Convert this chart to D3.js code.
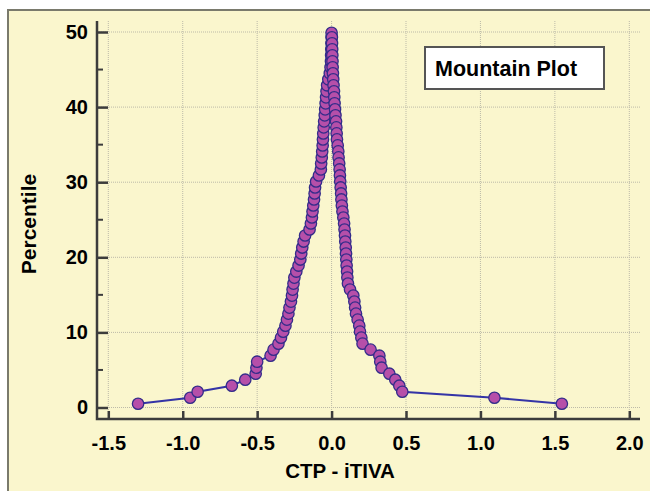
<!DOCTYPE html>
<html>
<head>
<meta charset="utf-8">
<script src="https://cdn.jsdelivr.net/npm/d3@7"></script>
<style>
  body { margin: 0; background: #ffffff; }
  text { font-family: "Liberation Sans", Arial, sans-serif; font-weight: bold; }
</style>
</head>
<body>
<div id="container"></div>
<script>
// left branch (ascending percentile), differences CTP - iTIVA
const leftDiff = [-1.30, -0.95, -0.90, -0.67, -0.58, -0.51, -0.505, -0.50, -0.41, -0.39,
  -0.357, -0.34, -0.325, -0.31, -0.30, -0.29, -0.283, -0.273, -0.266, -0.262,
  -0.256, -0.25, -0.237, -0.222, -0.21, -0.204, -0.197, -0.188, -0.178, -0.148,
  -0.139, -0.132, -0.128, -0.123, -0.118, -0.114, -0.111, -0.104, -0.085, -0.072,
  -0.07, -0.066, -0.063, -0.06, -0.058, -0.056, -0.053, -0.05, -0.046, -0.043,
  -0.04, -0.037, -0.034, -0.03, -0.022, -0.012, -0.007, -0.004, -0.003, -0.002,
  -0.001, 0.0, 0.0];
const leftPct = [0.5, 1.3, 2.1, 2.9, 3.7, 4.5, 5.3, 6.1, 6.9, 7.7,
  8.5, 9.3, 10.1, 10.9, 11.7, 12.5, 13.3, 14.1, 14.9, 15.7,
  16.5, 17.3, 18.1, 18.9, 19.7, 20.5, 21.3, 22.1, 22.9, 23.7,
  24.5, 25.3, 26.1, 26.9, 27.7, 28.5, 29.3, 30.1, 30.9, 31.7,
  32.5, 33.3, 34.1, 34.9, 35.7, 36.5, 37.3, 38.1, 38.9, 39.7,
  40.5, 41.3, 42.1, 42.9, 43.7, 44.5, 45.3, 46.1, 46.9, 47.7,
  48.5, 49.3, 49.9];

// right branch (descending percentile)
const rightDiff = [0.002, 0.003, 0.004, 0.005, 0.006, 0.007, 0.009, 0.011, 0.013, 0.016,
  0.018, 0.020, 0.023, 0.026, 0.030, 0.032, 0.034, 0.036, 0.041, 0.045,
  0.047, 0.051, 0.054, 0.056, 0.058, 0.061, 0.064, 0.066, 0.069, 0.073,
  0.079, 0.084, 0.087, 0.090, 0.092, 0.095, 0.097, 0.099, 0.101, 0.104,
  0.106, 0.110, 0.124, 0.146, 0.153, 0.158, 0.164, 0.175, 0.186, 0.191,
  0.200, 0.208, 0.262, 0.321, 0.327, 0.336, 0.388, 0.428, 0.455, 0.475,
  1.094, 1.547];
const rightPct = [49.3, 48.5, 47.7, 46.9, 46.1, 45.3, 44.5, 43.7, 42.9, 42.1,
  41.3, 40.5, 39.7, 38.9, 38.1, 37.3, 36.5, 35.7, 34.9, 34.1,
  33.3, 32.5, 31.7, 30.9, 30.1, 29.3, 28.5, 27.7, 26.9, 26.1,
  25.3, 24.5, 23.7, 22.9, 22.1, 21.3, 20.5, 19.7, 18.9, 18.1,
  17.3, 16.5, 15.7, 14.9, 14.1, 13.3, 12.5, 11.7, 10.9, 10.1,
  9.3, 8.5, 7.7, 6.9, 6.1, 5.3, 4.5, 3.7, 2.9, 2.1,
  1.3, 0.5];

const xTicks = [-1.5, -1.0, -0.5, 0.0, 0.5, 1.0, 1.5, 2.0];
const yTicks = [0, 10, 20, 30, 40, 50];
const yMinorTicks = [5, 15, 25, 35, 45];

const width = 650, height = 491;

const svg = d3.select("#container")
  .append("svg")
  .attr("width", width)
  .attr("height", height);

// chart background + frame
svg.append("rect")
  .attr("x", 8).attr("y", 10)
  .attr("width", width + 10).attr("height", height + 10)
  .attr("fill", "#faf6cd")
  .attr("stroke", "#7a7a6c")
  .attr("stroke-width", 2);

const x = d3.scaleLinear().domain([-1.5, 2.0]).range([108.3, 629.3]);
const y = d3.scaleLinear().domain([0, 50]).range([407.5, 32]);

const axisX = 97, axisY = 419, plotTop = 21, plotRight = 640;

// grid
const grid = svg.append("g")
  .attr("stroke", "#bcbaa8")
  .attr("stroke-width", 1)
  .attr("stroke-dasharray", "1,1");
grid.selectAll(".vg").data(xTicks).join("line")
  .attr("x1", d => x(d)).attr("x2", d => x(d))
  .attr("y1", plotTop).attr("y2", axisY);
grid.selectAll(".hg").data(yTicks).join("line")
  .attr("x1", axisX).attr("x2", plotRight)
  .attr("y1", d => y(d)).attr("y2", d => y(d));

// y axis
const yAxis = svg.append("g")
  .attr("transform", `translate(${axisX},0)`)
  .call(d3.axisLeft(y).tickValues(yTicks).tickFormat(d3.format("d"))
    .tickSizeInner(-11).tickSizeOuter(0).tickPadding(9));
yAxis.select(".domain").remove();
yAxis.selectAll(".tick line").attr("stroke", "#3c3c3c").attr("stroke-width", 2.5);
yAxis.selectAll(".tick text").attr("fill", "#000").style("font-size", "20px");
yAxis.selectAll(".minor").data(yMinorTicks).join("line")
  .attr("x1", 0).attr("x2", 6)
  .attr("y1", d => y(d)).attr("y2", d => y(d))
  .attr("stroke", "#3c3c3c").attr("stroke-width", 2);

// x axis
const xAxis = svg.append("g")
  .attr("transform", `translate(0,${axisY})`)
  .call(d3.axisBottom(x).tickValues(xTicks).tickFormat(d3.format(".1f"))
    .tickSizeInner(-8).tickSizeOuter(0).tickPadding(17));
xAxis.select(".domain").remove();
xAxis.selectAll(".tick line").attr("stroke", "#3c3c3c").attr("stroke-width", 2.5);
xAxis.selectAll(".tick text").attr("fill", "#000").style("font-size", "20px")
  .text(d => d3.format(".1f")(d).replace("−", "-"));

// axis lines
svg.append("path")
  .attr("d", `M${axisX},${plotTop}V${axisY}H${plotRight}`)
  .attr("fill", "none")
  .attr("stroke", "#3c3c3c")
  .attr("stroke-width", 2.5);

// axis titles
svg.append("text")
  .attr("transform", "translate(36,224) rotate(-90)")
  .attr("text-anchor", "middle")
  .style("font-size", "21px")
  .text("Percentile");
svg.append("text")
  .attr("x", 340).attr("y", 478)
  .attr("text-anchor", "middle")
  .style("font-size", "20.5px")
  .text("CTP - iTIVA");

// data
const left = leftDiff.map((d, i) => ({ diff: d, pct: leftPct[i] }));
const right = rightDiff.map((d, i) => ({ diff: d, pct: rightPct[i] }));
const points = left.concat(right);

const line = d3.line().x(d => x(d.diff)).y(d => y(d.pct));
svg.append("path")
  .datum(points)
  .attr("d", line)
  .attr("fill", "none")
  .attr("stroke", "#3434a6")
  .attr("stroke-width", 2);

svg.append("g")
  .selectAll("circle")
  .data(points)
  .join("circle")
  .attr("cx", d => x(d.diff))
  .attr("cy", d => y(d.pct))
  .attr("r", 5.7)
  .attr("fill", "#b64fa9")
  .attr("stroke", "#332c8a")
  .attr("stroke-width", 1.3);

// legend box
svg.append("rect")
  .attr("x", 425).attr("y", 47)
  .attr("width", 179).attr("height", 42)
  .attr("fill", "#ffffff")
  .attr("stroke", "#555555")
  .attr("stroke-width", 2);
svg.append("text")
  .attr("x", 435).attr("y", 76)
  .style("font-size", "21.5px")
  .text("Mountain Plot");
</script>
</body>
</html>
